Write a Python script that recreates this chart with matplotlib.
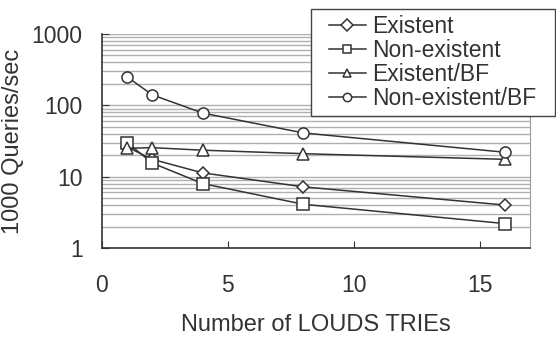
import matplotlib
matplotlib.use('Agg')
import matplotlib.pyplot as plt
from matplotlib.patches import Rectangle
from matplotlib.ticker import LogLocator, NullFormatter, FixedLocator

plt.rcParams['font.family'] = ['Liberation Sans', 'DejaVu Sans']

tries = [1, 2, 4, 8, 16]
existent = [26, 17.5, 11.3, 7.2, 4.0]
non_existent = [30, 15.5, 8.0, 4.1, 2.2]
existent_bf = [25, 25.5, 23.5, 21, 17.5]
non_existent_bf = [250, 140, 78, 41, 22]

labels = ['Existent', 'Non-existent', 'Existent/BF', 'Non-existent/BF']
markers = ['D', 's', '^', 'o']
msizes = [6, 8, 8, 8]

W, H = 556, 339
fig = plt.figure(figsize=(5.56, 3.39), dpi=100)
ax = fig.add_axes([102/W, 1 - 248/H, 428/W, 214/H])

for ys, lab, m, ms in zip([existent, non_existent, existent_bf, non_existent_bf], labels, markers, msizes):
    ax.plot(tries, ys, color='#333333', lw=1.1, marker=m, ms=ms,
            mfc='white', mec='#333333', mew=1.1, label=lab)

ax.set_yscale('log')
ax.set_ylim(1, 1000)
ax.set_xlim(0, 17)
ax.set_xticks([0, 5, 10, 15])
ax.yaxis.set_major_locator(FixedLocator([1, 10, 100, 1000]))
ax.set_yticklabels(['1', '10', '100', '1000'])
ax.yaxis.set_minor_locator(LogLocator(base=10, subs=range(2, 10)))
ax.yaxis.set_minor_formatter(NullFormatter())
ax.grid(True, axis='y', which='both', color='#b0b0b0', lw=1.0)
ax.set_axisbelow(True)

ax.tick_params(axis='both', which='major', direction='in', length=5, color='#333333',
               labelsize=16.5, labelcolor='#333333')
ax.tick_params(axis='y', which='major', pad=14)
ax.tick_params(axis='x', which='major', pad=19)
ax.tick_params(axis='y', which='minor', length=0)

for s in ['left', 'bottom']:
    ax.spines[s].set_color('#333333')
    ax.spines[s].set_linewidth(1.2)
ax.spines['right'].set_color('#999999')
ax.spines['top'].set_visible(False)

ax.set_xlabel('Number of LOUDS TRIEs', fontsize=17, color='#333333', labelpad=12)
ax.set_ylabel('1000 Queries/sec', fontsize=17, color='#333333')
ax.yaxis.set_label_coords((24 - 102) / 428, 0.5)

# legend box drawn by hand: wider side padding than top/bottom
box = Rectangle((311/W, 1 - 116/H), 244/W, 107/H, transform=fig.transFigure,
                facecolor='white', edgecolor='#444444', lw=1.0, zorder=5, clip_on=False)
ax.add_artist(box)
leg = ax.legend(loc='upper left', bbox_to_anchor=(329/W, 1 - 15/H), bbox_transform=fig.transFigure,
                fontsize=16.5, frameon=False, handlelength=1.6,
                borderpad=0, labelspacing=0.05, handletextpad=0.3, borderaxespad=0)
leg.set_zorder(6)
for t in leg.get_texts():
    t.set_color('#333333')
for h in leg.legend_handles:
    h.set_markersize(6)

fig.savefig('out.png', dpi=100)
